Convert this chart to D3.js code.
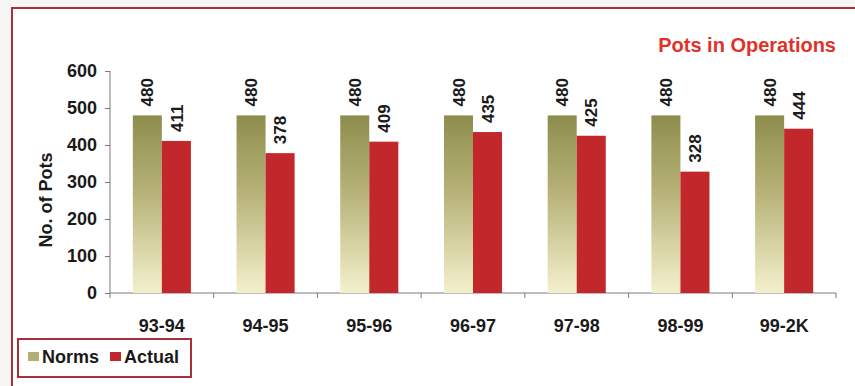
<!DOCTYPE html>
<html>
<head>
<meta charset="utf-8">
<script src="https://cdn.jsdelivr.net/npm/d3@7"></script>
<style>
  html, body { margin: 0; padding: 0; background: #f6f6f4; }
  svg { display: block; }
  text { font-family: "Liberation Sans", Arial, sans-serif; font-weight: bold; fill: #1a1a1a; }
</style>
</head>
<body>
<div id="chart"></div>
<script>
var years = ["93-94", "94-95", "95-96", "96-97", "97-98", "98-99", "99-2K"];
var norms = [480, 480, 480, 480, 480, 480, 480];
var actual = [411, 378, 409, 435, 425, 328, 444];
var seriesNames = ["Norms", "Actual"];
var yTicks = [0, 100, 200, 300, 400, 500, 600];

var outerWidth = 855;
var outerHeight = 386;
var margin = { left: 110, top: 71, right: 19, bottom: 93 };
var innerWidth = outerWidth - margin.left - margin.right;
var innerHeight = outerHeight - margin.top - margin.bottom;

var svg = d3.select('#chart').append('svg')
    .attr('width', outerWidth)
    .attr('height', outerHeight);

// gradient for the Norms bars
var defs = svg.append('defs');
var grad = defs.append('linearGradient')
    .attr('id', 'normsGrad')
    .attr('x1', 0).attr('y1', 0).attr('x2', 0).attr('y2', 1);
grad.append('stop').attr('offset', '0%').attr('stop-color', '#8f8d4d');
grad.append('stop').attr('offset', '45%').attr('stop-color', '#b8b47a');
grad.append('stop').attr('offset', '100%').attr('stop-color', '#f4f0cc');

// chart area with red border
svg.append('rect')
    .attr('x', 12).attr('y', 8)
    .attr('width', 900).attr('height', 420)
    .attr('fill', '#ffffff')
    .attr('stroke', '#a8303a')
    .attr('stroke-width', 2);

svg.append('text')
    .attr('x', 836).attr('y', 52)
    .attr('text-anchor', 'end')
    .style('font-size', '20px')
    .style('fill', '#e0322a')
    .text('Pots in Operations');

var g = svg.append('g')
    .attr('transform', 'translate(' + margin.left + ',' + margin.top + ')');

var xScale = d3.scaleBand().domain(years).range([0, innerWidth]).paddingInner(0.44).paddingOuter(0.22);
var x1 = d3.scaleBand().domain(seriesNames).range([0, xScale.bandwidth()]);
var yScale = d3.scaleLinear().domain([0, 600]).range([innerHeight, 0]);

// y axis
var yAxisG = g.append('g')
    .call(d3.axisLeft(yScale).tickValues(yTicks).tickSize(5).tickPadding(8));
yAxisG.select('.domain').attr('stroke', '#7a7a7a').attr('d', 'M0,' + innerHeight + 'V0');
yAxisG.selectAll('.tick line').attr('stroke', '#7a7a7a');
yAxisG.selectAll('.tick text').style('font-size', '18px').style('font-family', '"Liberation Sans", Arial, sans-serif');

// x axis with ticks at category boundaries
var xAxisG = g.append('g')
    .attr('transform', 'translate(0,' + innerHeight + ')');
xAxisG.append('line')
    .attr('x1', 0).attr('x2', innerWidth)
    .attr('stroke', '#7a7a7a');
var step = xScale.step();
xAxisG.selectAll('.bt')
    .data(d3.range(years.length + 1))
    .enter().append('line')
    .attr('x1', function (i) { return i * step; })
    .attr('x2', function (i) { return i * step; })
    .attr('y1', 0).attr('y2', 5)
    .attr('stroke', '#7a7a7a');
xAxisG.selectAll('.xl')
    .data(years)
    .enter().append('text')
    .attr('x', function (d) { return xScale(d) + xScale.bandwidth() / 2; })
    .attr('y', 39)
    .attr('text-anchor', 'middle')
    .style('font-size', '18px')
    .text(function (d) { return d; });

// y axis title
svg.append('text')
    .attr('transform', 'translate(52,200) rotate(-90)')
    .attr('text-anchor', 'middle')
    .style('font-size', '18px')
    .text('No. of Pots');

var rows = years.map(function (y, i) {
    return { year: y, vals: [
        { key: 'Norms', value: norms[i] },
        { key: 'Actual', value: actual[i] }
    ] };
});

var groups = g.selectAll('.grp')
    .data(rows)
    .enter().append('g')
    .attr('transform', function (d) { return 'translate(' + xScale(d.year) + ',0)'; });

groups.selectAll('rect')
    .data(function (d) { return d.vals; })
    .enter().append('rect')
    .attr('x', function (d) { return x1(d.key); })
    .attr('width', x1.bandwidth())
    .attr('y', function (d) { return yScale(d.value); })
    .attr('height', function (d) { return innerHeight - yScale(d.value); })
    .attr('fill', function (d) { return d.key === 'Norms' ? 'url(#normsGrad)' : '#c2272b'; });

groups.selectAll('.val')
    .data(function (d) { return d.vals; })
    .enter().append('text')
    .attr('transform', function (d) {
        return 'translate(' + (x1(d.key) + x1.bandwidth() / 2) + ',' + (yScale(d.value) - 9) + ') rotate(-90)';
    })
    .attr('dy', '0.36em')
    .style('font-size', '17px')
    .text(function (d) { return d.value; });

// legend
var leg = svg.append('g');
leg.append('rect')
    .attr('x', 18).attr('y', 339)
    .attr('width', 173).attr('height', 38)
    .attr('fill', '#ffffff')
    .attr('stroke', '#a8303a')
    .attr('stroke-width', 2);
var legX = [28, 110];
var legColors = ['url(#normsGrad)', '#c2272b'];
seriesNames.forEach(function (s, i) {
    leg.append('rect')
        .attr('x', legX[i]).attr('y', 352)
        .attr('width', 11).attr('height', 9)
        .attr('fill', i === 0 ? '#b2ae74' : legColors[i]);
    leg.append('text')
        .attr('x', legX[i] + 14).attr('y', 363)
        .style('font-size', '18px')
        .text(s);
});
</script>
</body>
</html>
